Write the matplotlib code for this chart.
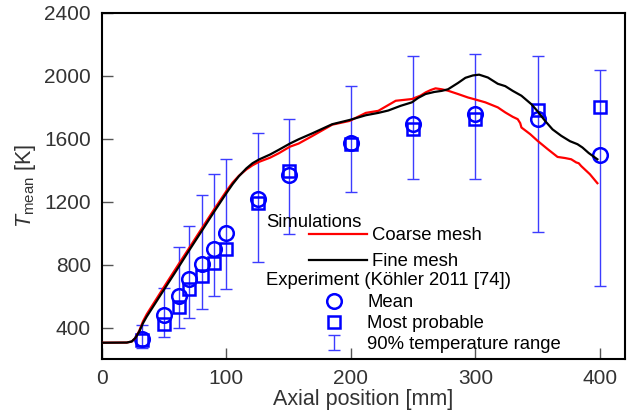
import numpy as np
import matplotlib
matplotlib.use('Agg')
import matplotlib.pyplot as plt
from matplotlib.legend_handler import HandlerErrorbar

plt.rcParams['font.family'] = ['Liberation Sans', 'DejaVu Sans']
plt.rcParams['mathtext.fontset'] = 'custom'
plt.rcParams['mathtext.rm'] = 'Liberation Sans'
plt.rcParams['mathtext.it'] = 'Liberation Sans:italic'

# simulations (axial position [mm], T [K])
coarse_x = [0, 20, 24, 27, 30, 33, 36, 50, 62, 70, 80, 90, 100, 105, 110, 116, 121, 126,
            135, 142, 151, 158, 169, 185, 199, 212, 222, 236, 249, 256, 260, 264, 268,
            273, 278, 286, 294, 300, 308, 318, 324, 330, 334, 336, 337, 344, 350, 358,
            366, 372, 377, 381, 383, 385, 392, 398]
coarse_y = [304, 305, 312, 335, 380, 440, 485, 660, 808, 905, 1028, 1150, 1268, 1322, 1365,
            1405, 1432, 1453, 1480, 1508, 1550, 1570, 1618, 1690, 1714, 1765, 1778, 1842,
            1853, 1875, 1895, 1910, 1921, 1915, 1906, 1885, 1863, 1850, 1832, 1800, 1768,
            1740, 1725, 1700, 1672, 1630, 1587, 1535, 1485, 1478, 1470, 1450, 1445, 1427,
            1375, 1318]
fine_x = [0, 20, 24, 27, 30, 33, 36, 50, 62, 70, 80, 90, 100, 105, 110, 116, 121, 126,
          135, 142, 151, 158, 169, 185, 199, 212, 222, 230, 240, 249, 254, 260, 267, 273,
          278, 286, 292, 298, 303, 310, 318, 324, 330, 337, 345, 350, 356, 362, 369, 376,
          382, 386, 391, 398]
fine_y = [304, 305, 312, 335, 375, 428, 470, 643, 790, 890, 1012, 1135, 1255, 1312, 1362,
          1412, 1445, 1468, 1500, 1530, 1570, 1597, 1635, 1693, 1720, 1750, 1765, 1780,
          1810, 1832, 1860, 1885, 1898, 1905, 1915, 1955, 1988, 2003, 2008, 1990, 1950,
          1935, 1905, 1874, 1820, 1775, 1714, 1660, 1619, 1585, 1566, 1545, 1510, 1470]

# experiment (Koehler 2011)
exp_x = [32, 50, 62, 70, 80, 90, 100, 125, 150, 200, 250, 300, 350, 400]
exp_mean = [330, 481, 598, 711, 806, 902, 1002, 1215, 1370, 1576, 1697, 1757, 1729, 1495]
exp_prob = [320, 424, 530, 647, 730, 811, 900, 1195, 1395, 1570, 1661, 1729, 1782, 1800]
exp_lo = [270, 343, 396, 464, 517, 598, 647, 815, 998, 1264, 1347, 1347, 1006, 666]
exp_hi = [417, 655, 910, 1044, 1242, 1374, 1474, 1640, 1725, 1938, 2129, 2140, 2129, 2038]

fig = plt.figure(figsize=(6.33, 4.19), dpi=100)
ax = fig.add_axes([0.161, 0.143, 0.826, 0.826])

blue = '#0000ff'
ebar_col = '#3c3cff'
fs_leg = 13.3

mean = np.array(exp_mean)
yerr = [mean - np.array(exp_lo), np.array(exp_hi) - mean]
h_err = ax.errorbar(exp_x, exp_mean, yerr=yerr, fmt='none', ecolor=ebar_col,
                    elinewidth=1.0, capsize=4.5, capthick=1.0, zorder=2)
h_prob, = ax.plot(exp_x, exp_prob, 's', ms=8, mfc='none', mec=blue, mew=1.8, zorder=3)
h_mean, = ax.plot(exp_x, exp_mean, 'o', ms=10.5, mfc='none', mec=blue, mew=1.8, zorder=3)

h_coarse, = ax.plot(coarse_x, coarse_y, color='#ff0000', lw=1.6, zorder=4)
h_fine, = ax.plot(fine_x, fine_y, color='black', lw=1.6, zorder=5)

ax.set_xlim(0, 420)
ax.set_ylim(200, 2400)
ax.set_xticks([0, 100, 200, 300, 400])
ax.set_yticks([400, 800, 1200, 1600, 2000, 2400])
ax.tick_params(direction='in', length=8, width=1, labelsize=15, labelcolor='#333333',
               color='#555555')
ax.tick_params(axis='x', pad=7)
ax.tick_params(axis='y', pad=8)
for s in ax.spines.values():
    s.set_linewidth(1.5)
ax.set_xlabel('Axial position [mm]', fontsize=15.5, color='#333333', labelpad=1)
ax.set_ylabel(r'$T_{\mathrm{mean}}$ [K]', fontsize=15.5, color='#333333', labelpad=4)

# legend
ax.text(0.3136, 0.396, 'Simulations', transform=ax.transAxes, fontsize=fs_leg,
        va='center', ha='left')
ax.text(0.3136, 0.228, 'Experiment (Köhler 2011 [74])', transform=ax.transAxes,
        fontsize=fs_leg, va='center', ha='left')

leg1 = ax.legend([h_coarse, h_fine], ['Coarse mesh', 'Fine mesh'], loc='center left',
                 bbox_to_anchor=(0.396, 0.319), frameon=False, fontsize=fs_leg,
                 handlelength=3.14, handletextpad=0.27, labelspacing=0.49,
                 borderpad=0, borderaxespad=0)
ax.add_artist(leg1)

leg2 = ax.legend([h_mean, h_prob, h_err], ['Mean', 'Most probable', '90% temperature range'],
                 loc='upper left', bbox_to_anchor=(0.405, 0.187), frameon=False,
                 fontsize=fs_leg, handlelength=2.2, handletextpad=0.69, labelspacing=0.2,
                 borderpad=0, borderaxespad=0,
                 handler_map={type(h_err): HandlerErrorbar(xerr_size=0.4, yerr_size=0.4)})

fig.savefig('out.png', dpi=100)
